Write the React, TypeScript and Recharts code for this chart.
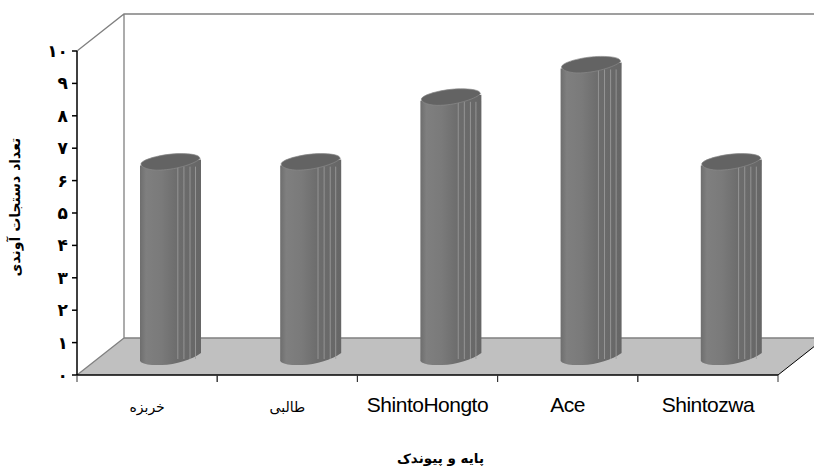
import React from 'react';
import { Bar, BarChart, XAxis, YAxis } from 'recharts';

const categories = ['خربزه', 'طالبی', 'ShintoHongto', 'Ace', 'Shintozwa'];
const vesselCounts = [6, 6, 8, 9, 6];
const yTicks = [0, 1, 2, 3, 4, 5, 6, 7, 8, 9, 10];
const yTickLabels = ['۰', '۱', '۲', '۳', '۴', '۵', '۶', '۷', '۸', '۹', '۱۰'];
const yTitle = 'تعداد دستجات آوندی';
const xTitle = 'پایه و پیوندک';

const data = categories.map((name, i) => ({ name, value: vesselCounts[i] }));

const W = 814;
const H = 466;
const LEFT = 77;
const RIGHT = 778;
const TOP = 51;
const BOTTOM = 375;
const BAND = (RIGHT - LEFT) / categories.length;
// depth of the fake 3d box
const DX = 47;
const DY = 37;
// where the columns stand inside the box
const COL_DX = 23;
const COL_DY = 17;

function Box() {
  return (
    <g>
      <polygon
        points={`${LEFT},${BOTTOM} ${LEFT + DX},${BOTTOM - DY} ${RIGHT + DX},${BOTTOM - DY} ${RIGHT},${BOTTOM}`}
        fill="#c0c0c0"
      />
      <path
        d={`M${LEFT},${TOP} L${LEFT + DX},${TOP - DY} L${RIGHT + DX},${TOP - DY} M${LEFT + DX},${TOP - DY} L${LEFT + DX},${BOTTOM - DY} L${RIGHT + DX},${BOTTOM - DY} M${LEFT + DX},${BOTTOM - DY} L${LEFT},${BOTTOM}`}
        fill="none"
        stroke="#808080"
        strokeWidth={1.3}
      />
      <line x1={RIGHT} y1={BOTTOM} x2={RIGHT + DX} y2={BOTTOM - DY} stroke="#000" strokeWidth={1} />
    </g>
  );
}

function Column(props: any) {
  const { x, y, width, height } = props;
  const l = x + COL_DX;
  const r = l + width;
  const t = y - COL_DY;
  const b = y + height - COL_DY;
  const stripes = [0.62, 0.72, 0.82, 0.91];
  return (
    <g>
      <path
        d={`M${l},${t + 2} L${l},${b + 3} Q${l + 2},${b + 6} ${l + 12},${b + 7} L${l + 22},${b + 7} C${l + 35},${b + 7} ${r - 8},${b + 1} ${r},${b - 5} L${r},${t - 4} Z`}
        fill="url(#columnShade)"
      />
      {stripes.map((s) => (
        <line
          key={s}
          x1={l + width * s}
          x2={l + width * s}
          y1={t + 3}
          y2={b + 1}
          stroke="#a0a0a0"
          strokeWidth={0.8}
        />
      ))}
      <path
        d={`M${l + 1},${t} C${l + 3},${t - 5} ${l + 25},${t - 10} ${l + 40},${t - 10} C${l + 50},${t - 10} ${r - 1},${t - 9} ${r - 1},${t - 5} C${r - 4},${t - 1} ${l + 38},${t + 6} ${l + 20},${t + 6.5} C${l + 10},${t + 7} ${l},${t + 4} ${l + 1},${t} Z`}
        fill="#636363"
        stroke="#8a8a8a"
        strokeWidth={0.7}
      />
    </g>
  );
}

function CategoryTick(props: any) {
  const { x, y, payload } = props;
  const latin = /^[A-Za-z]/.test(payload.value);
  return (
    <g>
      <line x1={x - BAND / 2} x2={x - BAND / 2} y1={BOTTOM} y2={BOTTOM + 7} stroke="#333" />
      <line x1={x + BAND / 2} x2={x + BAND / 2} y1={BOTTOM} y2={BOTTOM + 7} stroke="#333" />
      <text
        x={x}
        y={y + 29}
        textAnchor="middle"
        fill="#000"
        fontFamily={latin ? 'Liberation Sans' : 'DejaVu Sans'}
        fontSize={latin ? 21 : 14}
        letterSpacing={latin ? -0.5 : 0}
      >
        {payload.value}
      </text>
    </g>
  );
}

export default function App() {
  return (
    <div style={{ position: 'absolute', left: 0, top: 0, width: W, height: H }}>
      <BarChart
        width={W}
        height={H}
        data={data}
        barSize={61}
        margin={{ top: TOP, right: W - RIGHT, bottom: 0, left: 0 }}
      >
        <defs>
          <linearGradient id="columnShade" x1="0" y1="0" x2="1" y2="0">
            <stop offset="0" stopColor="#6e6e6e" />
            <stop offset="0.1" stopColor="#7f7f7f" />
            <stop offset="0.35" stopColor="#7a7a7a" />
            <stop offset="0.6" stopColor="#6d6d6d" />
            <stop offset="1" stopColor="#666666" />
          </linearGradient>
        </defs>
        <Box />
        <XAxis
          dataKey="name"
          interval={0}
          stroke="#000"
          strokeWidth={1.5}
          tickSize={6}
          tick={<CategoryTick />}
          tickLine={false}
          height={H - BOTTOM}
          label={{
            value: xTitle,
            position: 'insideBottom',
            offset: 3,
            dx: 13,
            fill: '#000',
            fontSize: 13.5,
            fontWeight: 700,
            fontFamily: 'DejaVu Sans',
          }}
        />
        <YAxis
          width={LEFT}
          domain={[0, 10]}
          ticks={yTicks}
          interval={0}
          stroke="#000"
          strokeWidth={1.5}
          tickSize={5}
          tickMargin={4}
          tickFormatter={(v: number) => yTickLabels[v]}
          tick={{ fill: '#000', fontSize: 17, fontWeight: 700, fontFamily: 'DejaVu Sans' }}
          label={{
            value: yTitle,
            angle: -90,
            position: 'insideLeft',
            offset: 15,
            dy: -6,
            fill: '#000',
            fontSize: 14,
            fontWeight: 700,
            fontFamily: 'DejaVu Sans',
            style: { textAnchor: 'middle' },
          }}
        />
        <Bar dataKey="value" shape={<Column />} isAnimationActive={false} />
      </BarChart>
    </div>
  );
}
